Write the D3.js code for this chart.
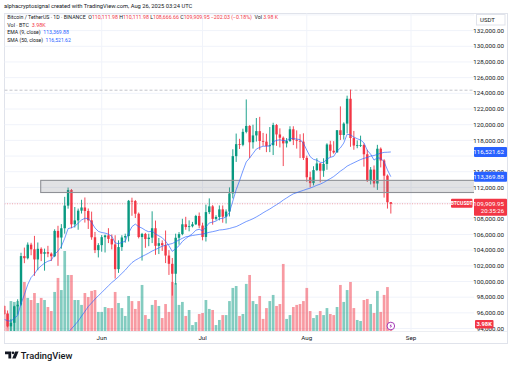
<!DOCTYPE html>
<html><head><meta charset="utf-8">
<script src="https://cdn.jsdelivr.net/npm/d3@7"></script>
<style>html,body{margin:0;padding:0;background:#fff}svg{display:block}text{font-family:Roboto,"Liberation Sans",sans-serif}</style>
</head><body><svg id="c" width="512" height="369"></svg>
<script>
const dates = ["2025-05-03","2025-05-04","2025-05-05","2025-05-06","2025-05-07","2025-05-08","2025-05-09","2025-05-10","2025-05-11","2025-05-12","2025-05-13","2025-05-14","2025-05-15","2025-05-16","2025-05-17","2025-05-18","2025-05-19","2025-05-20","2025-05-21","2025-05-22","2025-05-23","2025-05-24","2025-05-25","2025-05-26","2025-05-27","2025-05-28","2025-05-29","2025-05-30","2025-05-31",
"2025-06-01","2025-06-02","2025-06-03","2025-06-04","2025-06-05","2025-06-06","2025-06-07","2025-06-08","2025-06-09","2025-06-10","2025-06-11","2025-06-12","2025-06-13","2025-06-14","2025-06-15","2025-06-16","2025-06-17","2025-06-18","2025-06-19","2025-06-20","2025-06-21","2025-06-22","2025-06-23","2025-06-24","2025-06-25","2025-06-26","2025-06-27","2025-06-28","2025-06-29","2025-06-30",
"2025-07-01","2025-07-02","2025-07-03","2025-07-04","2025-07-05","2025-07-06","2025-07-07","2025-07-08","2025-07-09","2025-07-10","2025-07-11","2025-07-12","2025-07-13","2025-07-14","2025-07-15","2025-07-16","2025-07-17","2025-07-18","2025-07-19","2025-07-20","2025-07-21","2025-07-22","2025-07-23","2025-07-24","2025-07-25","2025-07-26","2025-07-27","2025-07-28","2025-07-29","2025-07-30","2025-07-31",
"2025-08-01","2025-08-02","2025-08-03","2025-08-04","2025-08-05","2025-08-06","2025-08-07","2025-08-08","2025-08-09","2025-08-10","2025-08-11","2025-08-12","2025-08-13","2025-08-14","2025-08-15","2025-08-16","2025-08-17","2025-08-18","2025-08-19","2025-08-20","2025-08-21","2025-08-22","2025-08-23","2025-08-24","2025-08-25","2025-08-26"];

const open = [96887,95856,94277,94733,96834,97032,103241,102970,104697,104106,102812,104169,103539,103744,103556,103218,106455,105606,106791,109678,111673,107288,107791,109035,109440,108995,107802,105641,103998,
104638,105652,105882,105432,104731,101575,104390,105616,105794,110295,110264,108645,105672,106066,105414,105594,106794,104551,104887,104630,103309,102257,100987,105577,106046,107296,106947,107047,107297,108356,
107135,105681,108850,109584,107985,108231,109203,108262,108922,111233,115987,117516,117435,119086,119841,117758,118630,119177,117924,117840,117265,117380,119954,118756,118340,117614,117919,119415,118062,117950,117840,
115764,113297,112546,114208,115055,114129,114992,117472,116674,116462,119294,118686,120134,123306,118295,117342,117380,117405,116227,112872,114271,112500,116935,115438,113494,110111.98];
const high = [96935,96304,95199,96920,97732,103666,104324,104984,104937,105819,104976,104356,104192,104550,103710,106660,107108,107320,110797,111980,111800,109500,109300,110422,110718,109313,108910,106325,104888,
105920,105983,106800,106000,105900,105250,105900,106100,110400,110690,110400,108800,106200,106200,106100,108950,107771,105550,105250,106500,104000,103000,106100,106300,108000,108250,107800,107600,108500,108800,
107500,109800,110600,109750,108450,109700,109700,109200,111999,116868,118870,118200,119490,123218,119940,120000,120850,120999,118950,118850,119700,120247,120090,119535,118500,118300,119800,119800,119273,118783,118900,
116052,114000,114700,115720,115127,115716,117630,117940,117900,119300,122335,120300,123700,124474,119200,117999,118600,117600,116800,114600,114800,117430,117100,115600,113650,110111.98];
const low = [95753,94151,93514,93377,95784,96913,102336,102816,103346,100719,101429,102602,101383,103100,102612,103105,102000,104184,106100,109285,106800,106888,106600,108670,107516,106700,105322,103621,103068,
103800,103700,104900,104100,100372,101100,103900,104950,105100,108380,108100,105500,102664,104300,104500,104900,103400,103500,103900,102350,100837,98200,99600,104700,105900,106600,106400,106900,107200,106800,
105250,105100,108600,107250,107800,107800,107500,107400,108300,110600,115250,116900,117250,118900,115736,116950,117850,116800,117300,116500,116500,116128,117301,117100,114723,117100,117800,117400,116950,115736,115500,
112722,112000,112250,114100,112650,113350,114250,115850,116300,116450,118050,118100,118900,117180,116800,117000,117150,114650,112700,112380,112000,111680,114550,110700,109300,108666.66];
const close = [95856,94277,94733,96834,97032,103241,102970,104697,104106,102812,104169,103539,103744,103556,103218,106455,105606,106791,109678,111673,107288,107791,109035,109440,108995,107802,105641,103998,104638,
105652,105882,105432,104731,101575,104390,105616,105794,110295,110264,108645,105672,106066,105414,105594,106794,104551,104887,104630,103309,102257,100987,105577,106046,107296,106947,107047,107297,108356,107135,
105681,108850,109584,107985,108231,109203,108262,108922,111233,115987,117516,117435,119086,119841,117758,118630,119177,117924,117840,117265,117380,119954,118756,118340,117614,117919,119415,118062,117950,117840,115764,
113297,112546,114208,115055,114129,114992,117472,116674,116462,119294,118686,120134,123306,118295,117342,117380,117405,116227,112872,114271,112500,116935,115438,113494,110111.98,109909.95];
// volume in thousands of BTC
const volume = [12.0,10.3,17.1,16.6,17.1,14.9,28.0,18.9,17.7,21.7,16.0,18.9,17.7,13.7,11.4,22.3,30.3,23.4,45.7,32.0,32.0,17.7,17.7,14.9,21.7,19.4,22.9,23.4,10.9,
10.9,13.7,13.1,13.1,22.3,16.0,13.1,8.6,20.0,17.1,12.6,17.1,26.3,9.1,6.9,14.9,17.7,14.3,7.4,15.4,10.9,28.0,27.4,14.9,16.6,8.6,12.0,3.4,5.1,9.7,
10.3,17.7,12.6,12.0,3.4,6.3,9.1,9.1,17.1,24.6,25.7,8.6,9.7,26.9,32.0,17.1,15.4,20.0,6.9,13.1,17.1,20.6,14.3,15.4,38.3,6.9,9.1,13.7,14.9,15.4,17.1,
24.6,11.4,7.4,9.1,11.4,9.1,13.1,9.7,9.1,13.7,26.3,16.6,23.4,28.0,13.1,6.3,5.7,17.7,18.3,15.4,10.3,22.9,10.9,20.6,25.1,3.98];
const ema9 = [95171,94992,94940,95319,95662,97178,98336,99608,100508,100969,101609,101995,102345,102587,102713,103461,103890,104470,105512,106744,106853,107041,107440,107840,108071,108017,107542,106833,106394,
106246,106173,106025,105766,104928,104820,104979,105142,106173,106991,107322,106992,106807,106528,106341,106432,106056,105822,105584,105129,104555,103841,104188,104560,105107,105475,105789,106091,106544,106662,
106466,106943,107471,107574,107705,108005,108056,108229,108830,110261,111712,112857,114103,115251,115752,116328,116898,117103,117250,117253,117278,117813,118002,118070,117979,117967,118257,118218,118164,118099,117632,
116765,115921,115578,115473,115204,115162,115624,115834,115960,116627,117039,117658,118788,118689,118420,118212,118051,117686,116723,116233,115486,115776,115708,115265,114234,113369.88];
const sma50 = [null,null,null,null,null,null,null,null,null,null,null,null,null,null,null,null,null,92410,92900,93483,93967,94446,94956,95581,96176,96807,97268,97756,98180,
98588,99031,99449,99871,100221,100611,101034,101449,101951,102406,102710,102949,103192,103406,103625,103886,104077,104289,104498,104634,104741,104844,105070,105296,105505,105704,105780,105866,105940,106000,
106058,106151,106272,106357,106450,106570,106606,106673,106761,106888,107004,107207,107433,107649,107816,108008,108236,108482,108758,109011,109246,109527,109793,110066,110386,110657,110933,111178,111331,111483,111625,
111778,111907,112083,112273,112419,112628,112880,113121,113384,113724,114078,114370,114715,114935,115143,115349,115551,115709,115824,115995,116068,116215,116364,116470,116488,116521.62];

const priceTicks = [94000,96000,98000,100000,102000,104000,106000,108000,110000,112000,114000,116000,118000,120000,122000,124000,126000,128000,130000,132000,134000];
const monthTicks = ["2025-06-01","2025-07-01","2025-08-01","2025-09-01"];
const monthLabels = ["Jun","Jul","Aug","Sep"];
const zone = [111350, 112900];
const athLevel = 124400;
const lastPrice = 109909.95;
const emaLast = 113369.88, smaLast = 116521.62, volLast = "3.98K";

const UP = "#089981", DN = "#f23645", BLUE = "#2962ff", INK = "#131722";
const svg = d3.select("#c");
svg.append("rect").attr("width",512).attr("height",369).attr("fill","#fff");

const L = 4.5, R = 474, T = 13.5, B = 331;
const x = d3.scaleUtc().domain([new Date("2025-06-01"), new Date("2025-09-01")]).range([101.7, 411]);
const y = d3.scaleLinear().domain([100000, 132000]).range([281.5, 30.6]);
const yv = d3.scaleLinear().domain([0, 45.7]).range([B, B - 80]);

const data = dates.map((d,i)=>({t:new Date(d), o:open[i], h:high[i], l:low[i], c:close[i], v:volume[i], e:ema9[i], s:sma50[i]}));

// a line of coloured text segments laid out one after another, font sized to fit a width
function line(xp, yp, width, parts){
  const g = svg.append("g");
  const els = parts.map(([s,c])=>g.append("text").attr("y",yp).attr("font-size",6).attr("fill",c||INK).text(s));
  const gap = 0;
  let total = els.reduce((a,e)=>a+e.node().getComputedTextLength(),0);
  const fs = Math.min(6, 6*width/total);
  els.forEach(e=>e.attr("font-size",fs));
  let cx = xp;
  els.forEach(e=>{ e.attr("x",cx); cx += e.node().getComputedTextLength() + gap; });
}

// header
line(4, 8, 189, [["alphacryptosignal created with TradingView.com, Aug 26, 2025 03:24 UTC"]]);

// pane border
svg.append("rect").attr("x",4.5).attr("y",T).attr("width",503).attr("height",343.5-T)
  .attr("fill","none").attr("stroke","#e0e3eb").attr("stroke-width",1);

// grid
const grid = svg.append("g");
grid.selectAll("line.h").data(priceTicks.filter(p=>y(p)>T+1 && y(p)<B)).join("line")
  .attr("x1",L).attr("x2",R).attr("y1",d=>y(d)).attr("y2",d=>y(d)).attr("stroke","#f0f3fa").attr("stroke-width",1);
grid.selectAll("line.v").data(monthTicks).join("line")
  .attr("x1",d=>x(new Date(d))).attr("x2",d=>x(new Date(d))).attr("y1",T).attr("y2",B).attr("stroke","#f0f3fa").attr("stroke-width",1);
svg.append("line").attr("x1",L).attr("x2",507).attr("y1",B+0.5).attr("y2",B+0.5).attr("stroke","#eceef2");

svg.append("defs").append("clipPath").attr("id","pc").append("rect").attr("x",L).attr("y",T).attr("width",R-L).attr("height",B-T);
const plot = svg.append("g").attr("clip-path","url(#pc)");

// volume
plot.selectAll("rect.vol").data(data).join("rect")
  .attr("x",d=>x(d.t)-1.35).attr("width",2.7)
  .attr("y",d=>yv(d.v)).attr("height",d=>B-yv(d.v))
  .attr("fill",d=>d.c>=d.o?"rgba(8,153,129,0.5)":"rgba(242,54,69,0.5)");

// dashed level line at ATH
plot.append("line").attr("x1",L).attr("x2",R).attr("y1",y(athLevel)).attr("y2",y(athLevel))
  .attr("stroke","#b2b5be").attr("stroke-dasharray","3,2").attr("stroke-width",0.8);
// last price dotted line
plot.append("line").attr("x1",L).attr("x2",R).attr("y1",y(lastPrice)).attr("y2",y(lastPrice))
  .attr("stroke","rgba(242,54,69,0.55)").attr("stroke-dasharray","1,1.5").attr("stroke-width",0.8);

// candles
const cg = plot.append("g");
cg.selectAll("line.w").data(data).join("line")
  .attr("x1",d=>x(d.t)).attr("x2",d=>x(d.t)).attr("y1",d=>y(d.h)).attr("y2",d=>y(d.l))
  .attr("stroke",d=>d.c>=d.o?UP:DN).attr("stroke-width",0.9);
cg.selectAll("rect.b").data(data).join("rect")
  .attr("x",d=>x(d.t)-1.2).attr("width",2.4)
  .attr("y",d=>y(Math.max(d.o,d.c))).attr("height",d=>Math.max(0.8, Math.abs(y(d.o)-y(d.c))))
  .attr("fill",d=>d.c>=d.o?UP:DN);

// zone box
plot.append("rect").attr("x",40.7).attr("width",R-40.7+2).attr("y",y(zone[1])).attr("height",y(zone[0])-y(zone[1]))
  .attr("fill","rgba(120,123,134,0.22)").attr("stroke","#8f9196").attr("stroke-width",1.1);

// EMA / SMA
const lineE = d3.line().x(d=>x(d.t)).y(d=>y(d.e));
const lineS = d3.line().defined(d=>d.s!=null).x(d=>x(d.t)).y(d=>y(d.s));
plot.append("path").datum(data).attr("d",lineE).attr("fill","none").attr("stroke",BLUE).attr("stroke-opacity",0.65).attr("stroke-width",1);
plot.append("path").datum(data).attr("d",lineS).attr("fill","none").attr("stroke",BLUE).attr("stroke-opacity",0.65).attr("stroke-width",1);

// price axis labels
const hidden = new Set([110000,116000,134000,94000]);
svg.append("g").selectAll("text").data(priceTicks.filter(p=>!hidden.has(p)&&y(p)>26&&y(p)<335)).join("text")
  .attr("x",504).attr("y",d=>y(d)).attr("dy","0.35em").attr("text-anchor","end")
  .attr("font-size",6.2).attr("fill",INK).text(d=>d3.format(",.2f")(d));

// USDT box
svg.append("rect").attr("x",476.5).attr("y",14.5).attr("width",28.5).attr("height",10.5).attr("fill","#fff").attr("stroke","#e0e3eb");
svg.append("text").attr("x",480).attr("y",22).attr("font-size",6).attr("fill",INK).text("USDT");

// coloured price tags
function tag(val, color, txt, h){
  const yy = y(val);
  svg.append("rect").attr("x",474).attr("y",yy-5).attr("width",33).attr("height",h||10).attr("fill",color).attr("rx",1);
  svg.append("text").attr("x",504).attr("y",yy).attr("dy","0.35em").attr("text-anchor","end").attr("font-size",6.2)
    .attr("fill","#fff").text(txt);
}
tag(smaLast, BLUE, d3.format(",.2f")(smaLast));
tag(emaLast, BLUE, d3.format(",.2f")(emaLast));
tag(lastPrice, DN, d3.format(",.2f")(lastPrice), 17);
svg.append("text").attr("x",504).attr("y",y(lastPrice)+7.5).attr("dy","0.35em").attr("text-anchor","end")
  .attr("font-size",6).attr("fill","#fff").text("20:35:26");
svg.append("rect").attr("x",451).attr("y",y(lastPrice)-5).attr("width",21.5).attr("height",9).attr("fill",DN).attr("rx",1);
svg.append("text").attr("x",461.7).attr("y",y(lastPrice)-0.5).attr("dy","0.35em").attr("text-anchor","middle")
  .attr("font-size",5).attr("font-weight",700).attr("fill","#fff").text("BTCUSDT");
// 94,000 tick label, partly behind the volume tag
svg.append("text").attr("x",504).attr("y",y(94000)).attr("dy","0.35em").attr("text-anchor","end")
  .attr("font-size",6.2).attr("fill",INK).text(d3.format(",.2f")(94000));
svg.append("rect").attr("x",475).attr("y",320).attr("width",18.5).attr("height",8.5).attr("fill",DN).attr("rx",1);
svg.append("text").attr("x",484.2).attr("y",324.3).attr("dy","0.35em").attr("text-anchor","middle")
  .attr("font-size",5.8).attr("font-weight",700).attr("fill","#fff").text(volLast);

// purple icon at last bar
const ix = x(new Date(dates[dates.length-1])), iy = 326;
svg.append("circle").attr("cx",ix).attr("cy",iy).attr("r",3.8).attr("fill","#fff").attr("stroke","#9c27b0").attr("stroke-width",0.9);
svg.append("path").attr("d",`M${ix+0.6},${iy-2.6} L${ix-1.3},${iy+0.3} L${ix},${iy+0.3} L${ix-0.6},${iy+2.6} L${ix+1.3},${iy-0.3} L${ix},${iy-0.3} Z`).attr("fill","#9c27b0");

// time axis labels
svg.append("g").selectAll("text").data(monthTicks).join("text")
  .attr("x",d=>x(new Date(d))).attr("y",339.5).attr("text-anchor","middle").attr("font-size",6.2).attr("fill",INK)
  .text((d,i)=>monthLabels[i]);

// legend
line(7.3, 18.8, 271.4, [["Bitcoin / TetherUS · 1D · BINANCE\u00a0\u00a0"],["O"],["110,111.98\u00a0",DN],["H"],["110,111.98\u00a0",DN],["L"],["108,666.66\u00a0",DN],["C"],["109,909.95\u00a0",DN],["−202.03 (−0.18%)\u00a0\u00a0",DN],["Vol\u00a0"],["3.98 K",DN]]);
line(7.3, 26.5, 38.4, [["Vol · BTC\u00a0\u00a0"],["3.98K",DN]]);
line(7.3, 34, 61.7, [["EMA (9, close)\u00a0\u00a0"],[d3.format(",.2f")(emaLast),BLUE]]);
line(7.3, 41.5, 63.7, [["SMA (50, close)\u00a0\u00a0"],[d3.format(",.2f")(smaLast),BLUE]]);

// TradingView logo
const logo = svg.append("g").attr("fill",INK);
logo.append("path").attr("d","M5,351.5 H11.2 V358.5 H8.4 V354.2 H5 Z");
logo.append("circle").attr("cx",13).attr("cy",352.8).attr("r",1.35);
logo.append("path").attr("d","M15.2,351.5 H18.6 L15.6,358.5 H12.2 Z");
svg.append("text").attr("x",20.7).attr("y",358.6).attr("font-size",9.3).attr("font-weight",500).attr("fill",INK).text("TradingView");
</script></body></html>
